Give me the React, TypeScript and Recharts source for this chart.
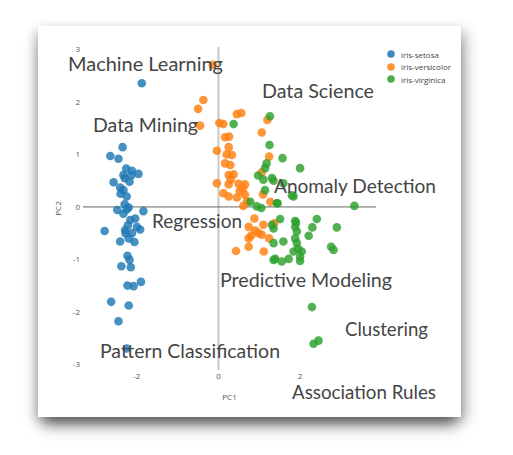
import React from 'react';
import { ScatterChart, Scatter, XAxis, YAxis, ReferenceLine } from 'recharts';

const setosaPC1 = [-1.88, -2.35, -2.65, -2.45, -2.26, -2.12, -1.96, -2.33, -2.57, -2.18, -2.41, -2.33, -2.25, -2.48, -2.2, -1.84, -2.33, -2.16, -2.04, -2.79, -2.29, -1.92, -2.12, -2.41, -2.06, -2.23, -2.18, -2.38, -2.15, -2.23, -2.08, -1.9, -2.63, -2.2, -2.45, -2.25, -2.3, -2.22, -2.28, -2.4, -2.14, -2.3, -2.2, -2.0, -2.25];
const setosaPC2 = [2.36, 1.14, 0.97, 0.92, 0.73, 0.69, 0.63, 0.61, 0.47, 0.48, 0.37, 0.32, 0.2, -0.06, -0.01, -0.08, -0.13, -0.25, -0.22, -0.46, -0.44, -0.43, -0.5, -0.66, -0.67, -0.93, -1.01, -1.13, -1.15, -1.5, -1.51, -1.43, -1.81, -1.88, -2.18, -2.7, 0.05, -0.35, -0.5, 0.25, 0.6, 0.55, -0.6, -0.38, -0.05];

const versicolorPC1 = [-0.14, -0.37, -0.5, -0.45, 0.02, 0.12, 0.45, 0.56, 0.16, 0.26, -0.04, 0.25, 0.33, 0.16, 0.29, 0.25, 0.37, 1.06, 1.2, 1.24, 1.06, -0.04, 0.25, 0.49, 0.65, 0.12, 0.25, 0.45, 0.65, 0.7, 0.61, 1.09, 1.27, 0.88, 0.74, 0.8, 0.98, 1.06, 0.74, 0.43, 1.11, 1.1, 1.37, 1.24, 0.74, 0.3, 0.52, 0.9, 0.2, 0.6];
const versicolorPC2 = [2.71, 2.04, 1.87, 1.55, 1.6, 1.58, 1.77, 1.79, 1.33, 1.34, 1.07, 1.14, 0.99, 0.83, 0.8, 0.61, 0.62, 1.42, 1.66, 0.96, 0.66, 0.45, 0.43, 0.44, 0.43, 0.26, 0.2, 0.18, 0.23, 0.1, 0.02, 0.24, 0.1, -0.22, -0.38, -0.55, -0.5, -0.53, -0.76, -0.84, -0.85, -0.34, -0.31, -0.6, -0.6, 0.52, 0.3, -0.45, 1.0, 0.35];

const virginicaPC1 = [0.37, 1.26, 1.25, 1.18, 1.14, 0.97, 1.31, 1.57, 2.0, 1.35, 1.14, 1.59, 1.8, 0.78, 1.43, 0.94, 1.05, 3.33, 1.84, 1.1, 1.51, 1.35, 1.88, 1.88, 1.92, 2.41, 2.3, 2.9, 2.21, 1.59, 1.35, 1.88, 1.92, 2.76, 2.82, 1.84, 2.04, 2.0, 1.39, 1.55, 1.72, 2.0, 2.29, 2.33, 2.45, 1.35, 1.31, 1.45, 1.9, 1.95];
const virginicaPC2 = [1.58, 1.73, 1.18, 0.83, 0.74, 0.6, 0.55, 0.93, 0.74, 0.5, 0.32, 0.45, 0.22, 0.1, 0.07, 0.01, -0.02, 0.02, 0.2, 0.52, -0.23, -0.41, -0.27, -0.38, -0.47, -0.23, -0.39, -0.39, -0.55, -0.66, -0.69, -0.6, -0.69, -0.76, -0.82, -0.85, -0.85, -0.95, -0.99, -1.04, -0.99, -1.03, -1.91, -2.61, -2.55, -1.01, -0.34, 0.07, -0.3, -0.8];

const speciesNames = ['iris-setosa', 'iris-versicolor', 'iris-virginica'];
const speciesColors = ['#1f77b4', '#ff7f0e', '#2ca02c'];
const xTicks = [-2, 0, 2];
const yTicks = [-3, -2, -1, 0, 1, 2, 3];
const topicLabels = ['Machine Learning', 'Data Science', 'Data Mining', 'Anomaly Detection', 'Regression', 'Predictive Modeling', 'Clustering', 'Pattern Classification', 'Association Rules'];

// annotation placement (pixels): [left, baseline, width]
const topicPlacement = [
  [68, 71, 155], [262, 98, 112], [93, 132, 105], [274, 193, 162], [152, 228, 90],
  [220, 287, 172], [345, 336, 83], [100, 358, 180], [292, 399, 144],
];

const toPoints = (xs: number[], ys: number[]) => xs.map((x, i) => ({ x, y: ys[i] }));
const seriesData = [
  toPoints(setosaPC1, setosaPC2),
  toPoints(versicolorPC1, versicolorPC2),
  toPoints(virginicaPC1, virginicaPC2),
];

const Dot = (color: string) => (props: any) => (
  <circle cx={props.cx} cy={props.cy} r={4.3} fill={color} fillOpacity={0.82} />
);

const font = '"Open Sans", sans-serif';

export default function App() {
  const tickStyle = { fontSize: 8, fill: '#555', fontFamily: font };
  return (
    <div style={{ position: 'absolute', left: 0, top: 0, width: 513, height: 455, background: '#fff', overflow: 'hidden' }}>
      <div
        style={{
          position: 'absolute', left: 38, top: 26, width: 423, height: 391, background: '#fff',
          boxShadow: '0 12px 14px -4px rgba(0,0,0,0.5), 6px 4px 12px rgba(0,0,0,0.22), -5px 4px 10px rgba(0,0,0,0.15)',
        }}
      />
      <div style={{ position: 'absolute', left: 0, top: 0 }}>
        <ScatterChart width={513} height={455} margin={{ left: 63, top: 47, right: 137, bottom: 65 }}>
          <XAxis
            type="number" dataKey="x" domain={[-3.32, 3.86]} ticks={xTicks} height={20}
            axisLine={false} tickLine={false} tickSize={0} tickMargin={3} tick={tickStyle}
            allowDataOverflow interval={0}
            label={{ value: 'PC1', position: 'insideBottom', offset: -10, style: { fontSize: 8, fill: '#555', fontFamily: font } }}
          />
          <YAxis
            type="number" dataKey="y" domain={[-3.11, 3.05]} ticks={yTicks} width={20}
            axisLine={false} tickLine={false} tickSize={0} tickMargin={3} tick={tickStyle}
            allowDataOverflow interval={0}
            label={{ value: 'PC2', angle: -90, position: 'insideLeft', offset: -5, style: { fontSize: 8, fill: '#555', fontFamily: font, textAnchor: 'middle' } }}
          />
          <ReferenceLine x={0} stroke="#c8c8c8" strokeWidth={2} />
          <ReferenceLine y={0} stroke="#666" strokeWidth={1} />
          {seriesData.map((d, i) => (
            <Scatter key={speciesNames[i]} name={speciesNames[i]} data={d} fill={speciesColors[i]} shape={Dot(speciesColors[i])} isAnimationActive={false} />
          ))}
        </ScatterChart>
      </div>
      <div style={{ position: 'absolute', left: 386, top: 48, fontFamily: font, fontSize: 8, color: '#444' }}>
        {speciesNames.map((n, i) => (
          <div key={n} style={{ display: 'flex', alignItems: 'center', height: 12.5 }}>
            <svg width={12} height={10} style={{ marginRight: 3 }}>
              <circle cx={5} cy={5} r={3.8} fill={speciesColors[i]} fillOpacity={0.85} />
            </svg>
            <span>{n}</span>
          </div>
        ))}
      </div>
      <svg width={513} height={455} style={{ position: 'absolute', left: 0, top: 0, pointerEvents: 'none' }}>
        {topicLabels.map((t, i) => (
          <text
            key={t}
            x={topicPlacement[i][0]}
            y={topicPlacement[i][1]}
            textLength={topicPlacement[i][2]}
            lengthAdjust="spacingAndGlyphs"
            fontFamily="Lato, sans-serif"
            fontSize={18.5}
            fill="#454545"
          >
            {t}
          </text>
        ))}
      </svg>
    </div>
  );
}
